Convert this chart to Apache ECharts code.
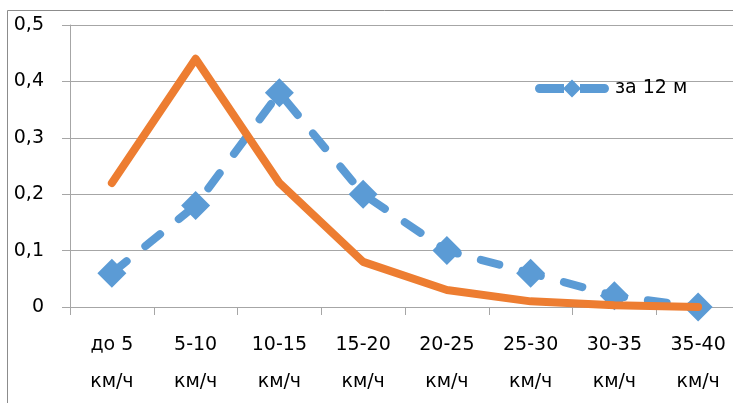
<!DOCTYPE html>
<html>
<head>
<meta charset="utf-8">
<script src="https://cdn.jsdelivr.net/npm/echarts@6/dist/echarts.min.js"></script>
<style>
html,body{margin:0;padding:0;overflow:hidden;background:#fff;}
#c{width:760px;height:403px;}
</style>
</head>
<body>
<div id="c"></div>
<script>
var categories = ['до 5\nкм/ч','5-10\nкм/ч','10-15\nкм/ч','15-20\nкм/ч','20-25\nкм/ч','25-30\nкм/ч','30-35\nкм/ч','35-40\nкм/ч'];
var seriesBlueName = 'за 12 м';
var seriesBlue = [0.06, 0.18, 0.38, 0.20, 0.10, 0.06, 0.02, 0.00];
var seriesOrangeName = 'другой период';
var seriesOrange = [0.22, 0.44, 0.22, 0.08, 0.03, 0.01, 0.003, 0.00];
var yTicks = {min: 0, max: 0.5, interval: 0.1};

var FONT = 'DejaVu Sans';
var BLUE = '#5B9BD5', ORANGE = '#ED7D31', GRAY = '#a6a6a6';
var legendIcon = 'path://M4.5,4.5 L29,4.5 L29,13.5 L4.5,13.5 A4.5,4.5 0 0 1 4.5,4.5 Z ' +
  'M28,9 L37,0 L46,9 L37,18 Z ' +
  'M45,4.5 L69.5,4.5 A4.5,4.5 0 0 1 69.5,13.5 L45,13.5 Z';

var chart = echarts.init(document.getElementById('c'));
chart.setOption({
  animation: false,
  backgroundColor: '#fff',
  graphic: [{
    type: 'rect', z: -10, silent: true,
    shape: {x: 7.5, y: 10.5, width: 900, height: 600},
    style: {fill: 'none', stroke: '#8c8c8c', lineWidth: 1}
  }],
  grid: {left: 70, top: 25, right: 20, bottom: 96, containLabel: false},
  legend: {
    data: [{name: seriesBlueName, icon: legendIcon}],
    left: 530, top: 74,
    itemWidth: 76, itemHeight: 18, itemGap: 5,
    textStyle: {fontFamily: FONT, fontSize: 19, color: '#000'}
  },
  xAxis: {
    type: 'category',
    data: categories,
    boundaryGap: true,
    axisLine: {lineStyle: {color: GRAY, width: 1}},
    axisTick: {show: true, length: 8, lineStyle: {color: GRAY}},
    axisLabel: {interval: 0, margin: 20, lineHeight: 37, fontFamily: FONT, fontSize: 19, color: '#000'},
    splitLine: {show: false}
  },
  yAxis: {
    type: 'value',
    min: yTicks.min, max: yTicks.max, interval: yTicks.interval,
    axisLine: {show: true, lineStyle: {color: GRAY, width: 1}},
    axisTick: {show: true, length: 8, lineStyle: {color: GRAY}},
    axisLabel: {
      margin: 26, fontFamily: FONT, fontSize: 19, color: '#000',
      formatter: function (v) { return v === 0 ? '0' : v.toFixed(1).replace('.', ','); }
    },
    splitLine: {show: true, lineStyle: {color: GRAY, width: 1}}
  },
  series: [
    {
      name: seriesBlueName,
      type: 'line',
      data: seriesBlue,
      symbol: 'diamond',
      symbolSize: 29,
      itemStyle: {color: BLUE},
      lineStyle: {color: BLUE, width: 8, type: [19, 24], cap: 'round', join: 'round'},
      z: 2
    },
    {
      name: seriesOrangeName,
      type: 'line',
      data: seriesOrange,
      symbol: 'none',
      itemStyle: {color: ORANGE},
      lineStyle: {color: ORANGE, width: 8, cap: 'round', join: 'round'},
      z: 3
    }
  ]
});
</script>
</body>
</html>
